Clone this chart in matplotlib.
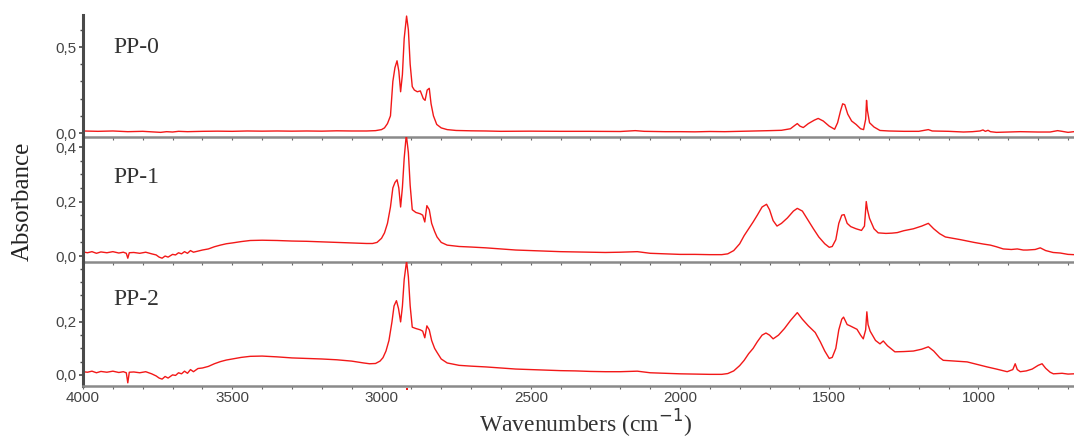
import numpy as np
import matplotlib
matplotlib.use("Agg")
import matplotlib.pyplot as plt
from matplotlib.ticker import MultipleLocator, FuncFormatter

# FTIR spectra, wavenumber (cm-1) vs absorbance
wn_pp0 = [4000, 3950, 3900, 3850, 3800, 3760, 3740, 3720, 3700, 3680, 3650, 3600, 3550,
          3500, 3450, 3400, 3350, 3300, 3250, 3200, 3150, 3100, 3050, 3020, 3000, 2990,
          2980, 2970, 2962, 2955, 2948, 2942, 2936, 2930, 2924, 2916, 2910, 2904, 2897,
          2890, 2880, 2870, 2860, 2854, 2847, 2840, 2834, 2826, 2815, 2800, 2780, 2750,
          2700, 2650, 2600, 2500, 2400, 2300, 2200, 2150, 2120, 2050, 2000, 1950, 1900,
          1850, 1800, 1750, 1700, 1660, 1630, 1615, 1607, 1598, 1587, 1570, 1550, 1537,
          1520, 1500, 1482, 1472, 1462, 1455, 1448, 1438, 1425, 1410, 1395, 1385, 1378,
          1375, 1372, 1365, 1350, 1330, 1300, 1250, 1200, 1168, 1155, 1100, 1050, 1020,
          995, 985, 977, 968, 960, 940, 900, 860, 800, 760, 735, 720, 700, 680]
abs_pp0 = [0.012, 0.010, 0.012, 0.008, 0.010, 0.006, 0.004, 0.008, 0.006, 0.010, 0.008,
           0.010, 0.011, 0.010, 0.012, 0.011, 0.012, 0.011, 0.012, 0.011, 0.013, 0.012,
           0.012, 0.014, 0.020, 0.030, 0.055, 0.10, 0.30, 0.38, 0.42, 0.36, 0.24, 0.34,
           0.55, 0.68, 0.60, 0.40, 0.27, 0.25, 0.24, 0.245, 0.20, 0.19, 0.25, 0.26, 0.17,
           0.10, 0.05, 0.03, 0.02, 0.015, 0.013, 0.012, 0.010, 0.011, 0.010, 0.010, 0.009,
           0.014, 0.010, 0.008, 0.008, 0.007, 0.009, 0.008, 0.010, 0.012, 0.014, 0.016,
           0.025, 0.045, 0.055, 0.040, 0.032, 0.055, 0.075, 0.085, 0.070, 0.040, 0.022,
           0.06, 0.13, 0.17, 0.165, 0.11, 0.07, 0.05, 0.025, 0.02, 0.08, 0.19, 0.13, 0.06,
           0.035, 0.015, 0.012, 0.010, 0.010, 0.020, 0.012, 0.010, 0.006, 0.008, 0.012,
           0.018, 0.010, 0.016, 0.008, 0.004, 0.006, 0.008, 0.006, 0.006, 0.014, 0.010,
           0.004, 0.008]

wn_pp1 = [4000, 3985, 3970, 3955, 3940, 3920, 3900, 3880, 3865, 3855, 3850, 3845, 3830,
          3810, 3790, 3770, 3755, 3745, 3735, 3725, 3715, 3700, 3690, 3680, 3670, 3660,
          3650, 3640, 3630, 3615, 3600, 3580, 3560, 3540, 3520, 3500, 3470, 3440, 3400,
          3350, 3300, 3250, 3200, 3150, 3100, 3050, 3030, 3015, 3000, 2990, 2980, 2970,
          2962, 2955, 2948, 2942, 2936, 2930, 2924, 2917, 2910, 2904, 2897, 2885, 2870,
          2862, 2855, 2848, 2840, 2832, 2822, 2814, 2800, 2780, 2740, 2700, 2650, 2600,
          2550, 2500, 2450, 2400, 2350, 2300, 2250, 2200, 2143, 2100, 2050, 2000, 1950,
          1900, 1860, 1840, 1820, 1800, 1785, 1770, 1755, 1741, 1725, 1710, 1700, 1688,
          1675, 1660, 1640, 1620, 1607, 1590, 1570, 1553, 1535, 1515, 1500, 1490, 1478,
          1468, 1458, 1450, 1440, 1428, 1410, 1392, 1382, 1376, 1372, 1365, 1350, 1336,
          1310, 1290, 1272, 1250, 1218, 1190, 1168, 1150, 1130, 1111, 1080, 1060, 1038,
          1015, 984, 960, 940, 917, 890, 870, 850, 837, 810, 793, 775, 750, 726, 700, 680]
abs_pp1 = [0.015, 0.012, 0.016, 0.010, 0.015, 0.012, 0.016, 0.011, 0.014, 0.010, -0.008,
           0.012, 0.013, 0.010, 0.014, 0.008, 0.004, -0.004, -0.008, 0.000, -0.004, 0.006,
           0.004, 0.012, 0.008, 0.016, 0.010, 0.020, 0.014, 0.018, 0.022, 0.026, 0.034,
           0.040, 0.045, 0.048, 0.053, 0.057, 0.058, 0.057, 0.055, 0.054, 0.052, 0.050,
           0.048, 0.046, 0.046, 0.050, 0.065, 0.085, 0.12, 0.18, 0.25, 0.27, 0.28, 0.25,
           0.18, 0.25, 0.36, 0.445, 0.38, 0.26, 0.17, 0.16, 0.155, 0.15, 0.125, 0.185,
           0.17, 0.12, 0.09, 0.07, 0.05, 0.04, 0.035, 0.033, 0.030, 0.026, 0.022, 0.020,
           0.018, 0.016, 0.015, 0.014, 0.013, 0.014, 0.016, 0.010, 0.008, 0.006, 0.006,
           0.005, 0.005, 0.008, 0.020, 0.045, 0.075, 0.10, 0.125, 0.15, 0.18, 0.19, 0.17,
           0.13, 0.11, 0.12, 0.14, 0.165, 0.175, 0.165, 0.13, 0.10, 0.07, 0.045, 0.032,
           0.035, 0.06, 0.12, 0.15, 0.152, 0.12, 0.108, 0.10, 0.094, 0.11, 0.20, 0.17,
           0.138, 0.10, 0.085, 0.083, 0.084, 0.086, 0.093, 0.10, 0.11, 0.12, 0.10, 0.082,
           0.07, 0.064, 0.06, 0.055, 0.050, 0.044, 0.040, 0.034, 0.026, 0.024, 0.026,
           0.022, 0.022, 0.024, 0.030, 0.020, 0.013, 0.011, 0.006, 0.005]

wn_pp2 = [4000, 3985, 3970, 3955, 3940, 3920, 3900, 3880, 3865, 3855, 3850, 3845, 3830,
          3810, 3790, 3770, 3755, 3745, 3735, 3725, 3715, 3700, 3690, 3680, 3670, 3660,
          3650, 3640, 3630, 3615, 3600, 3580, 3560, 3540, 3520, 3500, 3470, 3440, 3400,
          3350, 3300, 3250, 3200, 3150, 3100, 3060, 3040, 3020, 3005, 2995, 2985, 2975,
          2965, 2958, 2950, 2943, 2936, 2930, 2924, 2916, 2910, 2904, 2897, 2885, 2870,
          2862, 2855, 2848, 2840, 2832, 2822, 2814, 2800, 2780, 2740, 2700, 2650, 2600,
          2550, 2500, 2450, 2400, 2350, 2300, 2250, 2200, 2143, 2100, 2050, 2000, 1950,
          1900, 1860, 1840, 1820, 1800, 1785, 1770, 1755, 1741, 1725, 1712, 1700, 1688,
          1670, 1650, 1630, 1607, 1590, 1570, 1547, 1530, 1515, 1500, 1490, 1478, 1468,
          1458, 1452, 1440, 1430, 1418, 1407, 1395, 1386, 1378, 1374, 1370, 1363, 1345,
          1330, 1319, 1305, 1280, 1250, 1218, 1190, 1168, 1150, 1130, 1118, 1080, 1038,
          1000, 971, 940, 904, 885, 877, 870, 860, 840, 820, 800, 787, 775, 760, 749, 720,
          700, 680]
abs_pp2 = [0.012, 0.010, 0.014, 0.008, 0.013, 0.010, 0.014, 0.009, 0.012, 0.008, -0.030,
           0.010, 0.011, 0.008, 0.012, 0.004, -0.004, -0.012, -0.016, -0.006, -0.012,
           0.000, -0.002, 0.008, 0.004, 0.014, 0.006, 0.020, 0.012, 0.024, 0.026, 0.032,
           0.042, 0.050, 0.056, 0.060, 0.066, 0.070, 0.071, 0.068, 0.064, 0.062, 0.060,
           0.057, 0.052, 0.045, 0.042, 0.043, 0.052, 0.065, 0.09, 0.13, 0.20, 0.26, 0.28,
           0.25, 0.20, 0.26, 0.36, 0.43, 0.37, 0.26, 0.18, 0.175, 0.17, 0.165, 0.14, 0.185,
           0.17, 0.13, 0.10, 0.085, 0.06, 0.045, 0.036, 0.033, 0.030, 0.026, 0.022, 0.020,
           0.018, 0.016, 0.015, 0.013, 0.012, 0.012, 0.014, 0.008, 0.006, 0.004, 0.003,
           0.002, 0.002, 0.005, 0.015, 0.035, 0.055, 0.08, 0.10, 0.125, 0.15, 0.158, 0.15,
           0.136, 0.15, 0.175, 0.205, 0.235, 0.21, 0.185, 0.16, 0.125, 0.09, 0.062, 0.066,
           0.10, 0.17, 0.21, 0.218, 0.19, 0.185, 0.178, 0.172, 0.15, 0.136, 0.17, 0.238,
           0.19, 0.165, 0.13, 0.117, 0.128, 0.11, 0.087, 0.088, 0.09, 0.097, 0.106, 0.09,
           0.065, 0.055, 0.052, 0.049, 0.038, 0.030, 0.022, 0.012, 0.020, 0.042, 0.020,
           0.012, 0.015, 0.022, 0.036, 0.042, 0.025, 0.010, 0.004, 0.006, 0.003, 0.004]

names = ["PP-0", "PP-1", "PP-2"]
series = [(wn_pp0, abs_pp0), (wn_pp1, abs_pp1), (wn_pp2, abs_pp2)]

# panel layout in figure coords and y ranges
boxes = [[0.0773, 0.6872, 0.9227, 0.2785],
         [0.0773, 0.4018, 0.9227, 0.2854],
         [0.0773, 0.1187, 0.9227, 0.2831]]
ylims = [(-0.023, 0.686), (-0.022, 0.437), (-0.042, 0.426)]
yticks = [[0.0, 0.5], [0.0, 0.2, 0.4], [0.0, 0.2]]
yminor = [0.1, 0.05, 0.05]
label_y = [0.5, 0.29, 0.283]

serif = "Liberation Serif"
sans = "Liberation Sans"
grey = "#4a4a4a"

fig = plt.figure(figsize=(10.74, 4.38), dpi=100)
axes = []
for i, (box, (wn, ab)) in enumerate(zip(boxes, series)):
    ax = fig.add_axes(box)
    ax.plot(wn, ab, color="#f21818", lw=1.0)
    ax.set_xlim(4000, 680)
    ax.set_ylim(*ylims[i])
    ax.set_yticks(yticks[i])
    ax.yaxis.set_minor_locator(MultipleLocator(yminor[i]))
    ax.yaxis.set_major_formatter(FuncFormatter(lambda v, p: f"{v:.1f}".replace(".", ",")))
    ax.xaxis.set_major_locator(MultipleLocator(500))
    ax.xaxis.set_minor_locator(MultipleLocator(100))
    for s in ["top", "right"]:
        ax.spines[s].set_visible(False)
    ax.spines["left"].set_color(grey)
    ax.spines["left"].set_linewidth(2.2)
    ax.spines["bottom"].set_color("#8a8a8a")
    ax.spines["bottom"].set_linewidth(1.8)
    ax.tick_params(axis="y", which="major", length=3, width=1.2, color=grey,
                   labelsize=11, labelcolor="#444444", pad=2)
    ax.tick_params(axis="y", which="minor", length=2, width=1.0, color=grey)
    ax.tick_params(axis="x", which="both", length=2, width=0.8, color="#666666",
                   labelsize=11, labelcolor="#444444", pad=1.5)
    for t in ax.get_yticklabels() + ax.get_xticklabels():
        t.set_fontfamily(sans)
    if i < 2:
        ax.tick_params(axis="x", labelbottom=False)
    ax.text(3900, label_y[i], names[i], fontsize=17, family=serif, color="#333333",
            va="center", ha="left")
    ax.patch.set_alpha(0)
    axes.append(ax)

# cursor mark at the strongest band of the last spectrum
wn2, ab2 = series[2]
peak_wn = wn2[int(np.argmax(ab2))]
axes[2].plot([peak_wn], [-0.052], marker="s", color="#f21818", ms=1.8, mew=0,
             clip_on=False)

fig.text(0.021, 0.54, "Absorbance", rotation=90, fontsize=18, family=serif,
         color="#222222", ha="center", va="center")
fig.text(0.545, 0.033, "Wavenumbers (cm$^{-1}$)", fontsize=17, family=serif,
         color="#333333", ha="center", va="center")

fig.savefig("out.png", dpi=100, facecolor="white")
